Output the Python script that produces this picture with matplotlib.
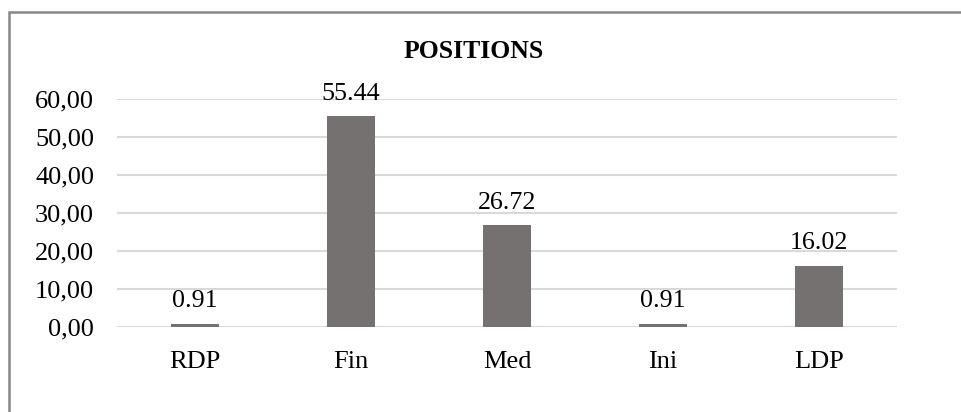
import matplotlib.pyplot as plt
from matplotlib.patches import Rectangle
from matplotlib.ticker import FuncFormatter

categories = ["RDP", "Fin", "Med", "Ini", "LDP"]
values = [0.91, 55.44, 26.72, 0.91, 16.02]
y_ticks = [0, 10, 20, 30, 40, 50, 60]

plt.rcParams["font.family"] = ["Liberation Serif", "DejaVu Serif"]

fig = plt.figure(figsize=(9.62, 4.12), dpi=100)
ax = fig.add_axes([117 / 962, 1 - 327 / 412, 780 / 962, 228 / 412])

x = range(len(categories))
bars = ax.bar(x, values, width=0.31, color="#767171", zorder=3)
for b, v in zip(bars, values):
    ax.annotate(f"{v:.2f}", (b.get_x() + b.get_width() / 2, v),
                xytext=(0, 8.5), textcoords="offset points",
                ha="center", va="bottom", fontsize=18.7)

ax.set_xlim(-0.5, len(categories) - 0.5)
ax.set_ylim(0, 60)
ax.set_yticks(y_ticks)
ax.yaxis.set_major_formatter(FuncFormatter(lambda v, _: f"{v:.2f}".replace(".", ",")))
ax.set_xticks(list(x))
ax.set_xticklabels(categories)
ax.tick_params(axis="both", length=0, labelsize=19)
ax.tick_params(axis="y", pad=16.5)
ax.tick_params(axis="x", pad=17)
ax.grid(axis="y", color="#d9d9d9", linewidth=1.5, zorder=0)
for s in ax.spines.values():
    s.set_visible(False)

fig.text(474 / 962, 1 - 52 / 412, "POSITIONS", ha="center", va="center",
         fontsize=18.5, fontweight="bold")

# chart frame
fig.patches.append(Rectangle((9 / 962, -0.1), 1.2, 1 - 12 / 412 + 0.1,
                             transform=fig.transFigure, fill=False,
                             edgecolor="#878787", linewidth=1.8))

fig.savefig("out.png", dpi=100)
